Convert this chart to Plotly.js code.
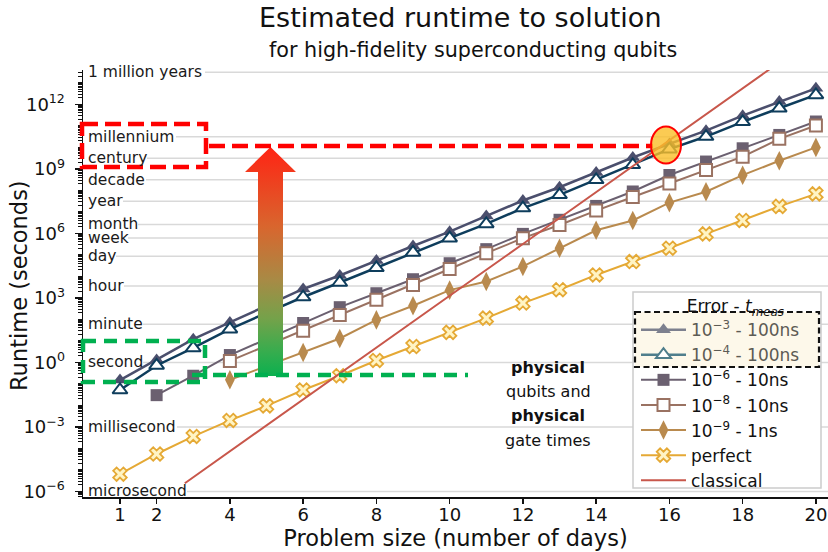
<!DOCTYPE html>
<html><head><meta charset="utf-8">
<script src="https://cdn.plot.ly/plotly-3.0.1.min.js"></script>
<style>html,body{margin:0;padding:0;background:#fff}#chart{width:828px;height:552px}</style>
</head><body><div id="chart"></div>
<script>
// ---------------- data ----------------
const days = [1,2,3,4,5,6,7,8,9,10,11,12,13,14,15,16,17,18,19,20];
const err1e3_100ns = [0.15,1.3,12,72,430,2.6e3,1.1e4,5.5e4,2.6e5,1.2e6,6.5e6,3.4e7,1.4e8,6.8e8,3.4e9,1.45e10,6.0e10,3.0e11,1.35e12,5.6e12];
const err1e4_100ns = [0.052,0.72,4.7,35,200,1.1e3,5.2e3,2.5e4,1.3e5,6.0e5,2.75e6,1.5e7,6.2e7,3.1e8,1.55e9,8.3e9,3.2e10,1.55e11,6.6e11,2.75e12];
const err1e6_10ns = [null,0.030,0.24,2.2,12.5,68,370,1.65e3,7.4e3,4.1e4,1.85e5,9.5e5,4.3e6,1.9e7,8.9e7,5.2e8,2.2e9,9.1e9,3.8e10,1.6e11];
const err1e8_10ns = [null,null,null,1.17,6.0,30,160,810,4.0e3,2.2e4,1.2e5,6.0e5,2.45e6,1.15e7,4.9e7,2.1e8,8.9e8,3.7e9,2.5e10,1.05e11];
const err1e9_1ns = [null,null,null,0.155,0.68,2.9,13,95,430,2.3e3,5.8e3,2.9e4,2.05e5,1.4e6,4.0e6,2.7e7,8.7e7,5.1e8,2.4e9,1.0e10];
const perfect = [6.3e-6,5.5e-5,3.6e-4,2.0e-3,9.5e-3,0.052,0.24,1.23,5.5,25,115,575,2.4e3,1.17e4,4.9e4,2.05e5,9.5e5,4.0e6,1.8e7,6.9e7];
const classicalDays = [2.77,4,6,8,10,12,14,16,18,20];
const classical = [2.4e-6,7.4e-5,1.9e-2,4.9,1.26e3,3.2e5,8.3e7,2.2e10,5.6e12,1.45e15];

const xTickVals = [1,2,4,6,8,10,12,14,16,18,20];
const yTickVals = [1e-6,1e-3,1,1e3,1e6,1e9,1e12];
const yTickText = ['10<sup>\u22126</sup>','10<sup>\u22123</sup>','10<sup>0</sup>','10<sup>3</sup>','10<sup>6</sup>','10<sup>9</sup>','10<sup>12</sup>'];
const timeUnitNames = ['microsecond','millisecond','second','minute','hour','day','week','month','year','decade','century','millennium','1 million years'];
const timeUnitSeconds = [1e-6,1e-3,1,60,3600,86400,604800,2.628e6,3.156e7,3.156e8,3.156e9,3.156e10,3.156e13];

// ---------------- layout geometry ----------------
const FONT = 'DejaVu Sans';
const M = {l:83, r:0, t:70, b:55};
const W = 828, H = 552;
const PW = W - M.l - M.r, PH = H - M.t - M.b;
const xRange = [-0.01, 20.33];
const yRangeLog = [-6.26, 13.60];
const px2paperX = px => (px - M.l) / PW;
const py2paperY = py => (H - M.b - py) / PH;
const log2paperY = v => (v - yRangeLog[0]) / (yRangeLog[1] - yRangeLog[0]);
const gridStartPx = [187,177,143,143,124,116,128,138,123,146,147,176,205];

const C = {
  e3:'#4b4f6d', e4:'#0e3d5c', e6:'#6b6070', e8:'#9a7262', e9:'#b98a4e',
  perf:'#e5a935', perfFill:'#fff4c4', cls:'#c8574b'
};

const traces = [];
// legend-only entries (faded inside the highlighted legend box)
traces.push({x:[null], y:[null], mode:'lines+markers', name:'<span style="color:#5d5b54">10<sup>\u22123</sup> - 100ns</span>',
  line:{color:'#7d808e', width:2.5}, marker:{symbol:'triangle-up', size:13, color:'#7d808e'}});
traces.push({x:[null], y:[null], mode:'lines+markers', name:'<span style="color:#5d5b54">10<sup>\u22124</sup> - 100ns</span>',
  line:{color:'#4f7e8c', width:2.5}, marker:{symbol:'triangle-up', size:13, color:'#ffffff', line:{color:'#4f7e8c', width:2}}});

traces.push({x:days, y:err1e3_100ns, mode:'lines+markers', showlegend:false,
  line:{color:C.e3, width:2.5}, marker:{symbol:'triangle-up', size:13, color:C.e3}});
traces.push({x:days, y:err1e4_100ns, mode:'lines+markers', showlegend:false,
  line:{color:C.e4, width:2.5}, marker:{symbol:'triangle-up', size:13, color:'#ffffff', line:{color:C.e4, width:2}}});
traces.push({x:days, y:err1e6_10ns, mode:'lines+markers', name:'10<sup>\u22126</sup> - 10ns',
  line:{color:C.e6, width:2}, marker:{symbol:'square', size:12, color:C.e6}});
traces.push({x:days, y:err1e8_10ns, mode:'lines+markers', name:'10<sup>\u22128</sup> - 10ns',
  line:{color:C.e8, width:2}, marker:{symbol:'square', size:12, color:'#ffffff', line:{color:C.e8, width:2}}});
traces.push({x:days, y:err1e9_1ns, mode:'lines+markers', name:'10<sup>\u22129</sup> - 1ns',
  line:{color:C.e9, width:2}, marker:{symbol:'diamond-tall', size:14, color:C.e9}});
traces.push({x:days, y:perfect, mode:'lines+markers', name:'perfect',
  line:{color:C.perf, width:2}, marker:{symbol:'x', size:12, color:C.perfFill, line:{color:C.perf, width:1.8}}});
traces.push({x:classicalDays, y:classical, mode:'lines', name:'classical',
  line:{color:C.cls, width:2}});

// minor ticks
const minorVals = [];
for (let n = -7; n <= 14; n++) for (let k = 1; k <= 9; k++) {
  if (k === 1 && n % 3 === 0) continue;
  minorVals.push(k * Math.pow(10, n));
}

const shapes = [];
const annotations = [];
// grid lines at time units, starting after their labels
timeUnitSeconds.forEach((s, i) => {
  const y = log2paperY(Math.log10(s));
  shapes.push({type:'line', xref:'paper', yref:'paper', x0:px2paperX(gridStartPx[i]), x1:1, y0:y, y1:y,
    line:{color:'#d9d9d9', width:1.5}, layer:'below'});
  annotations.push({xref:'paper', yref:'paper', x:px2paperX(86), y:y, xanchor:'left', yanchor:'middle',
    text:timeUnitNames[i], showarrow:false, font:{family:FONT, size:15.5, color:'#1a1a1a'}});
});

// red dashed box + line
shapes.push({type:'rect', xref:'paper', yref:'paper', x0:px2paperX(82), x1:px2paperX(206), y0:py2paperY(124), y1:py2paperY(167),
  line:{color:'#ff0000', width:4.5, dash:'16px,7px'}, layer:'above'});
shapes.push({type:'line', xref:'paper', yref:'paper', x0:px2paperX(209), x1:px2paperX(653), y0:py2paperY(146), y1:py2paperY(146),
  line:{color:'#ff0000', width:4.5, dash:'16px,7px'}, layer:'above'});
// green dashed box + line
shapes.push({type:'rect', xref:'paper', yref:'paper', x0:px2paperX(83), x1:px2paperX(205), y0:py2paperY(341), y1:py2paperY(382),
  line:{color:'#00b050', width:4.5, dash:'13px,8px'}, layer:'above'});
shapes.push({type:'line', xref:'paper', yref:'paper', x0:px2paperX(192), x1:px2paperX(468), y0:py2paperY(375), y1:py2paperY(375),
  line:{color:'#00b050', width:4.5, dash:'13px,8px'}, layer:'above'});
// highlight ellipse
shapes.push({type:'circle', xref:'paper', yref:'paper', x0:px2paperX(651), x1:px2paperX(681), y0:py2paperY(126.5), y1:py2paperY(163.5),
  fillcolor:'rgba(250,190,40,0.8)', line:{color:'#ff0000', width:2}, layer:'above'});
// legend background + highlighted box
shapes.push({type:'rect', xref:'paper', yref:'paper', x0:px2paperX(633), x1:px2paperX(821), y0:py2paperY(292), y1:py2paperY(488),
  fillcolor:'#ffffff', line:{color:'#cccccc', width:1.5}, layer:'above'});
shapes.push({type:'rect', xref:'paper', yref:'paper', x0:px2paperX(635), x1:px2paperX(819), y0:py2paperY(312), y1:py2paperY(367),
  fillcolor:'#fdf8ea', line:{color:'#111111', width:2.2, dash:'6px,3.5px'}, layer:'above'});

// titles
annotations.push({xref:'paper', yref:'paper', x:px2paperX(460), y:py2paperY(17.5), xanchor:'center', yanchor:'middle',
  text:'Estimated runtime to solution', showarrow:false, font:{family:FONT, size:27, color:'#111'}});
annotations.push({xref:'paper', yref:'paper', x:px2paperX(473), y:py2paperY(50), xanchor:'center', yanchor:'middle',
  text:'for high-fidelity superconducting qubits', showarrow:false, font:{family:FONT, size:20.7, color:'#111'}});
// y-axis title (placed explicitly)
annotations.push({xref:'paper', yref:'paper', x:px2paperX(19), y:py2paperY(286), xanchor:'center', yanchor:'middle',
  textangle:-90, text:'Runtime (seconds)', showarrow:false, font:{family:FONT, size:22.5, color:'#111'}});
// physical text
const physLines = ['<b>physical</b>','qubits and','<b>physical</b>','gate times'];
const physY = [367,391,415,440];
physLines.forEach((t, i) => annotations.push({xref:'paper', yref:'paper', x:px2paperX(548), y:py2paperY(physY[i]),
  xanchor:'center', yanchor:'middle', text:t, showarrow:false, font:{family:FONT, size:16, color:'#111'}}));

// gradient arrow
const arrowSvg = '<svg xmlns="http://www.w3.org/2000/svg" width="51" height="230" viewBox="0 0 51 230" preserveAspectRatio="none">' +
  '<defs><linearGradient id="g" x1="0" y1="0" x2="0" y2="1">' +
  '<stop offset="0" stop-color="#ff2414"/><stop offset="0.35" stop-color="#d8662e"/><stop offset="0.58" stop-color="#a88a45"/>' +
  '<stop offset="0.75" stop-color="#74a24a"/><stop offset="0.9" stop-color="#34ad4e"/><stop offset="1" stop-color="#0bb04f"/>' +
  '</linearGradient></defs><path d="M25.5 0 L51 25 L38 25 L38 230 L13 230 L13 25 L0 25 Z" fill="url(#g)"/></svg>';
const images = [{source:'data:image/svg+xml;charset=utf-8,' + encodeURIComponent(arrowSvg),
  xref:'paper', yref:'paper', x:px2paperX(245), y:py2paperY(147), sizex:51/PW, sizey:229/PH,
  xanchor:'left', yanchor:'top', sizing:'stretch', layer:'above'}];

const layout = {
  width:W, height:H, margin:M, paper_bgcolor:'#fff', plot_bgcolor:'#fff',
  font:{family:FONT, color:'#111'},
  showlegend:true,
  xaxis:{range:xRange, tickmode:'array', tickvals:xTickVals, ticks:'outside', ticklen:5, tickwidth:1.5, tickcolor:'#111',
    showline:true, linecolor:'#111', linewidth:1.5, showgrid:false, zeroline:false, ticklabelstandoff:-4,
    tickfont:{family:FONT, size:18}, title:{text:'Problem size (number of days)', font:{family:FONT, size:22.5}, standoff:2}},
  yaxis:{type:'log', range:yRangeLog, tickmode:'array', tickvals:yTickVals, ticktext:yTickText, ticks:'outside', ticklen:7,
    tickwidth:1.5, tickcolor:'#111', showline:true, linecolor:'#111', linewidth:1.5, showgrid:false, zeroline:false,
    ticklabelstandoff:6,
    tickfont:{family:FONT, size:18},
    minor:{tickmode:'array', tickvals:minorVals, ticks:'outside', ticklen:4, tickwidth:1, tickcolor:'#111', showgrid:false}},
  legend:{x:px2paperX(636), y:py2paperY(290), xanchor:'left', yanchor:'top', bgcolor:'rgba(0,0,0,0)', borderwidth:0,
    font:{family:FONT, size:17, color:'#111'}, itemwidth:45, tracegroupgap:0,
    title:{text:'\u00a0\u00a0\u00a0\u00a0\u00a0\u00a0\u00a0\u00a0\u00a0Error - <i>t</i><sub><i>meas</i></sub>', font:{family:FONT, size:17}}},
  shapes:shapes, annotations:annotations, images:images
};

Plotly.newPlot('chart', traces, layout, {displayModeBar:false, staticPlot:true});
</script></body></html>
